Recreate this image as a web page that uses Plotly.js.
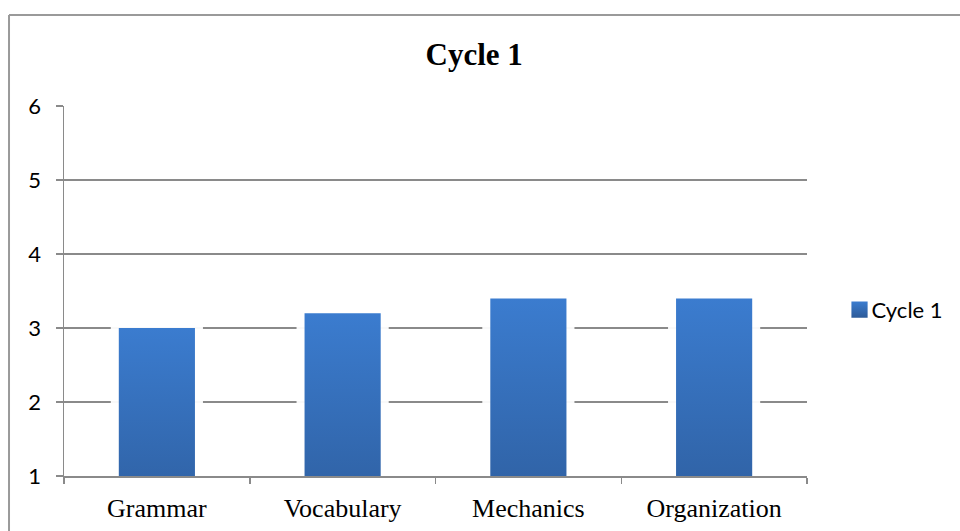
<!DOCTYPE html>
<html>
<head>
<meta charset="utf-8">
<script src="https://cdn.plot.ly/plotly-3.0.1.min.js"></script>
<style>html,body{margin:0;padding:0;background:#fff;}#chart{width:960px;height:531px;}</style>
</head>
<body>
<div id="chart"></div>
<script>
var categories = ["Grammar", "Vocabulary", "Mechanics", "Organization"];
var cycle1 = [3.0, 3.2, 3.4, 3.4];
var seriesName = "Cycle 1";
var yTicks = [1, 2, 3, 4, 5, 6];

var trace = {
  type: "bar",
  x: categories,
  y: cycle1,
  name: seriesName,
  showlegend: true,
  marker: {color: "#346bb5"},
  hoverinfo: "none"
};

var layout = {
  width: 960,
  height: 531,
  margin: {l: 64, r: 153, t: 106, b: 55, autoexpand: false},
  paper_bgcolor: "#ffffff",
  plot_bgcolor: "#ffffff",
  bargap: 0.59,
  title: {
    text: "<b>Cycle 1</b>",
    font: {family: "Liberation Serif, Times New Roman, serif", size: 31, color: "#000"},
    x: 0.494, xanchor: "center",
    y: 0.898, yanchor: "middle", yref: "container"
  },
  xaxis: {
    type: "category",
    showgrid: false,
    showline: true,
    linecolor: "#8a8a8a",
    linewidth: 1.5,
    ticks: "outside",
    tickson: "boundaries",
    ticklen: 6,
    tickcolor: "#8a8a8a",
    tickwidth: 1.5,
    tickfont: {family: "Liberation Serif, Times New Roman, serif", size: 26, color: "#000"},
    ticklabelstandoff: 8,
    fixedrange: true
  },
  yaxis: {
    range: [1, 6],
    tickvals: yTicks,
    showgrid: true,
    gridcolor: "#8a8a8a",
    gridwidth: 1.5,
    showline: true,
    linecolor: "#8a8a8a",
    linewidth: 1.5,
    ticks: "outside",
    ticklen: 7,
    tickcolor: "#8a8a8a",
    tickwidth: 1.5,
    tickfont: {family: "Lato, Noto Sans, sans-serif", size: 22, color: "#000"},
    ticklabelstandoff: 10,
    zeroline: false,
    fixedrange: true
  },
  legend: {
    x: 1.033, xanchor: "left",
    y: 0.449, yanchor: "middle",
    font: {family: "Lato, Noto Sans, sans-serif", size: 22, color: "#000"},
    bgcolor: "rgba(0,0,0,0)"
  },
  shapes: [
    {type: "line", xref: "paper", yref: "paper", x0: -0.074, x1: -0.074, y0: 1.246, y1: -0.16,
     line: {color: "#9a9a9a", width: 2}},
    {type: "line", xref: "paper", yref: "paper", x0: -0.074, x1: 1.25, y0: 1.246, y1: 1.246,
     line: {color: "#9a9a9a", width: 2}}
  ]
};

Plotly.newPlot("chart", [trace], layout, {displayModeBar: false, staticPlot: true}).then(function (gd) {
  var svg = gd.querySelector("svg.main-svg");
  var ns = "http://www.w3.org/2000/svg";
  var defs = svg.querySelector("defs") || svg.insertBefore(document.createElementNS(ns, "defs"), svg.firstChild);
  var grad = document.createElementNS(ns, "linearGradient");
  grad.setAttribute("id", "barGrad");
  grad.setAttribute("x1", "0"); grad.setAttribute("y1", "0");
  grad.setAttribute("x2", "0"); grad.setAttribute("y2", "1");
  [["0%", "#3b7ccf"], ["100%", "#2c5a98"]].forEach(function (s) {
    var st = document.createElementNS(ns, "stop");
    st.setAttribute("offset", s[0]);
    st.setAttribute("stop-color", s[1]);
    grad.appendChild(st);
  });
  defs.appendChild(grad);
  gd.querySelectorAll(".barlayer .point path").forEach(function (p) {
    p.style.fill = "url(#barGrad)";
    p.style.stroke = "rgba(255,255,255,0.95)";
    p.style.strokeWidth = "16px";
    p.style.paintOrder = "stroke";
  });
  gd.querySelectorAll(".legend .legendpoints path").forEach(function (p) {
    p.style.fill = "url(#barGrad)";
    p.style.stroke = "none";
    var t = p.getAttribute("transform") || "";
    p.setAttribute("transform", t + " translate(8,0) scale(1.35)");
  });
});
</script>
</body>
</html>
